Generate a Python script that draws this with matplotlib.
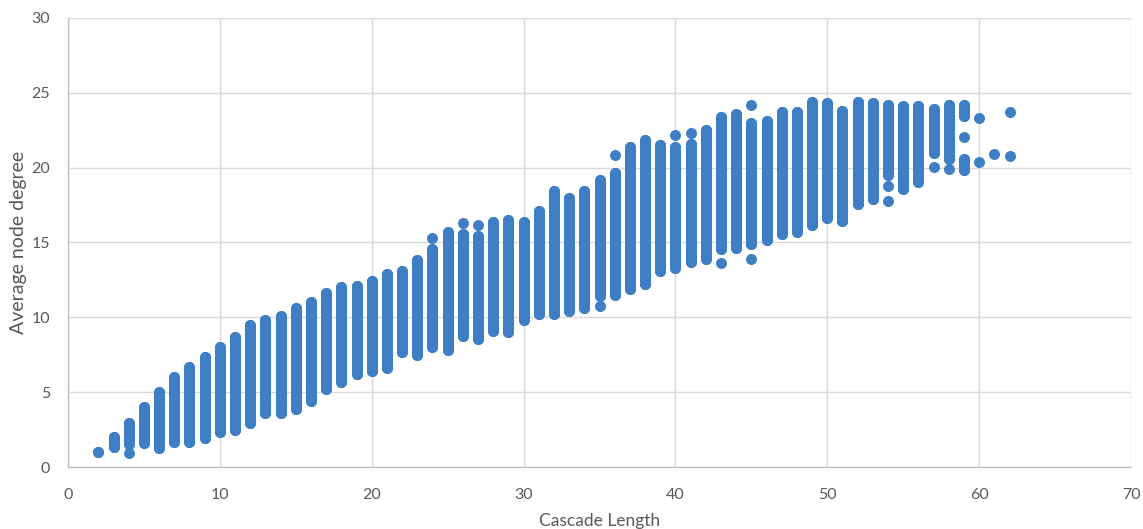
import matplotlib
matplotlib.use("Agg")
import matplotlib.pyplot as plt

# ---- data ----
# main continuous column per cascade length: lowest and highest average node degree
col_x  = [2, 3, 4, 5, 6, 7, 8, 9, 10, 11, 12, 13, 14, 15, 16, 17, 18, 19, 20,
          21, 22, 23, 24, 25, 26, 27, 28, 29, 30, 31, 32, 33, 34, 35, 36, 37,
          38, 39, 40, 41, 42, 43, 44, 45, 46, 47, 48, 49, 50, 51, 52, 53, 54,
          55, 56, 57, 58, 59, 59]
col_lo = [1.0, 1.33, 1.55, 1.6, 1.3, 1.65, 1.65, 1.97, 2.37, 2.5, 2.97, 3.63,
          3.63, 3.86, 4.4, 5.2, 5.7, 6.2, 6.4, 6.6, 7.7, 7.5, 8.05, 7.8, 8.75,
          8.55, 9.1, 9.0, 9.8, 10.25, 10.25, 10.4, 10.65, 11.4, 11.5, 11.9,
          12.25, 13.1, 13.3, 13.7, 13.9, 14.55, 14.6, 14.9, 15.2, 15.6, 15.7,
          16.2, 16.65, 16.45, 17.6, 17.9, 19.5, 18.6, 19.05, 20.95, 20.6,
          23.45, 19.85]
col_hi = [1.0, 2.0, 2.95, 4.0, 5.0, 6.0, 6.7, 7.35, 8.0, 8.7, 9.5, 9.8, 10.1,
          10.6, 11.0, 11.6, 12.0, 12.1, 12.4, 12.9, 13.1, 13.8, 14.55, 15.7,
          15.55, 15.45, 16.4, 16.5, 16.4, 17.1, 18.45, 18.0, 18.45, 19.2,
          19.67, 21.35, 21.85, 21.5, 21.35, 21.55, 22.5, 23.4, 23.6, 23.0,
          23.1, 23.7, 23.7, 24.4, 24.3, 23.8, 24.4, 24.35, 24.2, 24.1, 24.1,
          23.95, 24.2, 24.2, 20.55]

# isolated points that stand apart from the columns
pt_x = [4, 24, 26, 27, 35, 36, 40, 41, 43, 45, 45, 54, 54, 57, 58, 59,
        60, 60, 61, 62, 62]
pt_y = [0.95, 15.3, 16.3, 16.2, 10.75, 20.85, 22.15, 22.3, 13.65, 24.2,
        13.9, 18.8, 17.8, 20.05, 19.9, 22.05, 23.35, 20.35, 20.9, 23.75,
        20.8]

x_ticks = [0, 10, 20, 30, 40, 50, 60, 70]
y_ticks = [0, 5, 10, 15, 20, 25, 30]
x_title = "Cascade Length"
y_title = "Average node degree"

# ---- styling ----
plt.rcParams["font.family"] = ["Lato", "DejaVu Sans"]

blue = "#3E7EC4"
grid_c = "#D9D9D9"
text_c = "#595959"

fig = plt.figure(figsize=(11.43, 5.29), dpi=100)
ax = fig.add_axes([0.0595, 0.1172, 0.93, 0.8488])

dot_px = 11.0
lw_pt = dot_px * 72.0 / fig.dpi
ax.vlines(col_x, col_lo, col_hi, colors=blue, linewidth=lw_pt,
          capstyle="round", zorder=3)
ax.scatter(col_x + col_x, col_lo + col_hi, s=lw_pt ** 2, color=blue,
           linewidths=0, zorder=3)
ax.scatter(pt_x, pt_y, s=lw_pt ** 2, color=blue, linewidths=0, zorder=3)

ax.set_xlim(0, 70)
ax.set_ylim(0, 30)
ax.set_xticks(x_ticks)
ax.set_yticks(y_ticks)
ax.grid(True, color=grid_c, linewidth=1.0, zorder=0)
ax.set_axisbelow(True)
for s in ["top", "right"]:
    ax.spines[s].set_visible(False)
for s in ["left", "bottom"]:
    ax.spines[s].set_color("#BFBFBF")
    ax.spines[s].set_linewidth(1.0)
ax.tick_params(axis="both", length=0, labelsize=11.5, colors=text_c)
ax.tick_params(axis="x", pad=15)
ax.tick_params(axis="y", pad=13)
ax.set_xlabel(x_title, fontsize=12.5, color=text_c, labelpad=8)
ax.set_ylabel(y_title, fontsize=14, color=text_c, labelpad=3)

fig.savefig("out.png", dpi=100)
